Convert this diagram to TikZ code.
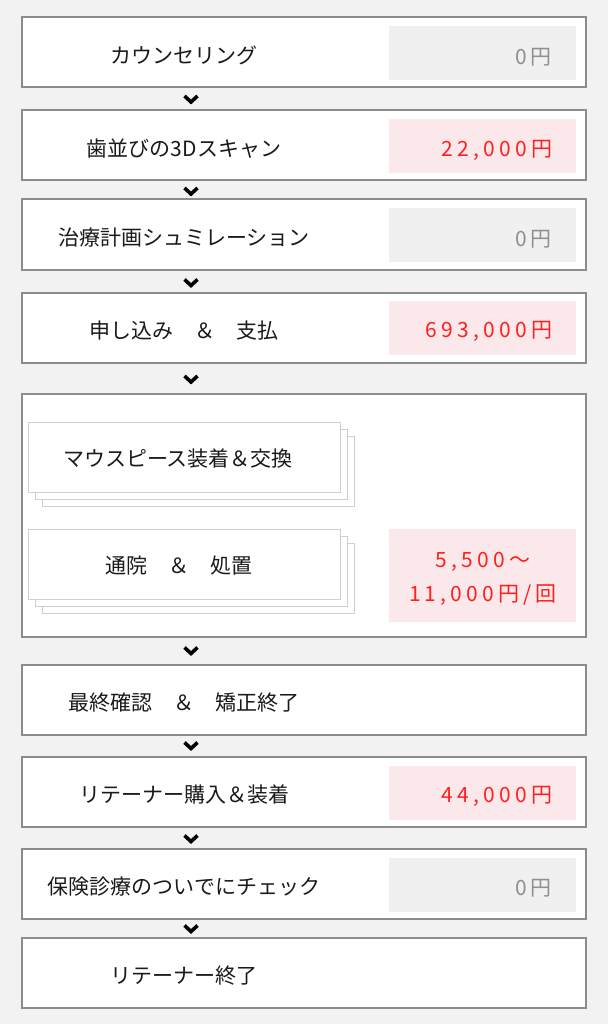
\documentclass[tikz,border=0pt]{standalone}
\usepackage{fontspec}
\setmainfont{Noto Sans CJK JP}
\newfontfamily\pricefont[LetterSpace=20]{Noto Sans CJK JP}
\definecolor{bggray}{HTML}{F2F2F2}
\definecolor{edgegray}{HTML}{8C8C8C}
\definecolor{cardgray}{HTML}{CFCFCF}
\definecolor{freegray}{HTML}{F0F0F0}
\definecolor{paypink}{HTML}{FAE8EA}
\definecolor{payred}{HTML}{FF1F1F}
\definecolor{zerogray}{HTML}{8F8F8F}
\definecolor{inkblack}{HTML}{1A1A1A}
\begin{document}
\begin{tikzpicture}[x=1pt,y=-1pt]
\tikzstyle{every node}+=[inner sep=0pt]
\tikzstyle{stepbox}=[draw=edgegray, line width=2pt, fill=white, minimum width=564pt, minimum height=70pt]
\tikzstyle{cardbox}=[draw=cardgray, line width=1pt, fill=white, minimum width=312pt, minimum height=70pt]
\tikzstyle{freebox}=[fill=freegray, minimum width=187pt, minimum height=54pt]
\tikzstyle{paybox}=[fill=paypink, minimum width=187pt, minimum height=54pt]
\tikzstyle{steptext}=[text=inkblack, font=\fontsize{21}{25}\selectfont]
\tikzstyle{freetext}=[anchor=east, text=zerogray, font=\pricefont\fontsize{21}{25}\selectfont]
\tikzstyle{paytext}=[anchor=east, text=payred, font=\pricefont\fontsize{21}{25}\selectfont]
\tikzstyle{chev}=[line width=3.6pt, line join=miter, black]
% background and page size
\fill [bggray] (0,0) rectangle (608,1024);
% steps
\node [stepbox] (s1) at (303.5,52) {};
\node [steptext] (t1) at (184,55) {カウンセリング};
\node [freebox] (p1) at (482.5,53.5) {};
\node [freetext] (q1) at ([xshift=-24pt,yshift=-4pt]p1.east) {0円};
\node [stepbox] (s2) at (303.5,145.5) {};
\node [steptext] (t2) at (184,148.5) {歯並びの3Dスキャン};
\node [paybox] (p2) at (482.5,146) {};
\node [paytext] (q2) at ([xshift=-24pt,yshift=-4pt]p2.east) {22,000円};
\node [stepbox] (s3) at (303.5,234.5) {};
\node [steptext] (t3) at (184,237.5) {治療計画シュミレーション};
\node [freebox] (p3) at (482.5,235) {};
\node [freetext] (q3) at ([xshift=-24pt,yshift=-4pt]p3.east) {0円};
\node [stepbox] (s4) at (303.5,328) {};
\node [steptext] (t4) at (184,331) {申し込み　＆　支払};
\node [paybox] (p4) at (482.5,327.5) {};
\node [paytext] (q4) at ([xshift=-24pt,yshift=-4pt]p4.east) {693,000円};
% treatment block
\node [stepbox, minimum height=243pt] (s5) at (303.5,515.5) {};
\node [cardbox] (m1c) at (198,471) {};
\node [cardbox] (m1b) at (191,464) {};
\node [cardbox] (m1) at (184,457) {};
\node [steptext] (u1) at (178,459) {マウスピース装着＆交換};
\node [cardbox] (m2c) at (198,578.5) {};
\node [cardbox] (m2b) at (191,571.5) {};
\node [cardbox] (m2) at (184,564.5) {};
\node [steptext] (u2) at (179,566) {通院　＆　処置};
\node [paybox, minimum height=93pt] (p5) at (482.5,575.5) {};
\node [paytext, anchor=center, align=center, font=\pricefont\fontsize{21}{34}\selectfont] (q5) at (483,579) {5,500〜\\11,000円/回};
\node [stepbox] (s6) at (303.5,699.5) {};
\node [steptext] (t6) at (184,702.5) {最終確認　＆　矯正終了};
\node [stepbox] (s7) at (303.5,792) {};
\node [steptext] (t7) at (184,795) {リテーナー購入＆装着};
\node [paybox] (p7) at (482.5,792.5) {};
\node [paytext] (q7) at ([xshift=-24pt,yshift=-4pt]p7.east) {44,000円};
\node [stepbox] (s8) at (303.5,884) {};
\node [steptext] (t8) at (184,887) {保険診療のついでにチェック};
\node [freebox] (p8) at (482.5,884.5) {};
\node [freetext] (q8) at ([xshift=-24pt,yshift=-4pt]p8.east) {0円};
\node [stepbox] (s9) at (303.5,973) {};
\node [steptext] (t9) at (184,976) {リテーナー終了};
% chevrons between steps
\foreach \y in {99.5,191.5,283,379.5,651,746,839,929}
  \draw [chev] (184.5,\y-3.5) -- (191,\y+2.5) -- (197.5,\y-3.5);
\end{tikzpicture}
\end{document}
